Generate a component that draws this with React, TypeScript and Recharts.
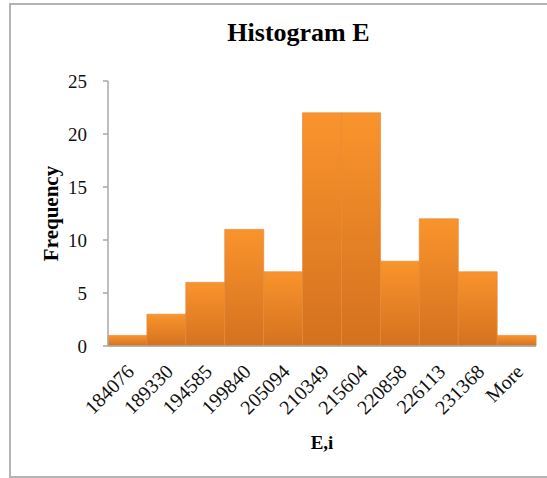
import React from "react";
import { BarChart, Bar, XAxis, YAxis, Label } from "recharts";

const bins = [
  "184076",
  "189330",
  "194585",
  "199840",
  "205094",
  "210349",
  "215604",
  "220858",
  "226113",
  "231368",
  "More",
];
const frequency = [1, 3, 6, 11, 7, 22, 22, 8, 12, 7, 1];
const yTicks = [0, 5, 10, 15, 20, 25];

const data = bins.map((bin, i) => ({ bin, frequency: frequency[i] }));

const serif = "'Liberation Serif', 'Times New Roman', serif";

// rotated bin labels, anchored at their right end just under the axis
function BinTick(props: any) {
  const { x, y, payload } = props;
  return (
    <g transform={`translate(${x + 3},${y})`}>
      <text
        transform="rotate(-45)"
        textAnchor="end"
        dominantBaseline="central"
        fontFamily={serif}
        fontSize={20}
        fill="#111"
      >
        {payload.value}
      </text>
    </g>
  );
}

export default function App() {
  return (
    <div
      style={{
        position: "absolute",
        left: 0,
        top: 0,
        width: 547,
        height: 478,
        overflow: "hidden",
        background: "#fff",
      }}
    >
      {/* chart frame */}
      <div
        style={{
          position: "absolute",
          left: 9,
          top: 3,
          width: 560,
          height: 475,
          border: "2px solid #b4b4b4",
          boxSizing: "border-box",
        }}
      />
      <div
        style={{
          position: "absolute",
          left: 0,
          top: 18,
          width: 597,
          textAlign: "center",
          fontFamily: serif,
          fontWeight: "bold",
          fontSize: 26,
          color: "#000",
        }}
      >
        Histogram E
      </div>
      <BarChart
        width={547}
        height={478}
        data={data}
        margin={{ top: 81, right: 11, bottom: 0, left: 0 }}
        barCategoryGap={0}
        barGap={0}
        style={{ position: "absolute", left: 0, top: 0 }}
      >
        <defs>
          <linearGradient id="barFill" x1="0" y1="0" x2="0" y2="1">
            <stop offset="0%" stopColor="#f9942c" />
            <stop offset="100%" stopColor="#d4711f" />
          </linearGradient>
        </defs>
        <XAxis
          dataKey="bin"
          height={132}
          interval={0}
          tickLine={false}
          tickSize={0}
          tickMargin={22}
          axisLine={{ stroke: "#a8a8a8", strokeWidth: 1.5 }}
          tick={<BinTick />}
        >
          <Label
            content={({ viewBox }: any) => (
              <text
                x={viewBox.x + viewBox.width / 2}
                y={449}
                textAnchor="middle"
                fontFamily={serif}
                fontWeight="bold"
                fontSize={19}
                fill="#000"
              >
                E,i
              </text>
            )}
          />
        </XAxis>
        <YAxis
          width={108}
          domain={[0, 25]}
          ticks={yTicks}
          interval={0}
          tickSize={5}
          tickMargin={16}
          axisLine={{ stroke: "#a8a8a8", strokeWidth: 1.5 }}
          tickLine={{ stroke: "#a8a8a8", strokeWidth: 1.5 }}
          tick={{ fontFamily: serif, fontSize: 19, fill: "#111" }}
        >
          <Label
            content={({ viewBox }: any) => {
              const cy = viewBox.y + viewBox.height / 2;
              return (
                <text
                  x={51}
                  y={cy}
                  transform={`rotate(-90, 51, ${cy})`}
                  textAnchor="middle"
                  dominantBaseline="central"
                  fontFamily={serif}
                  fontWeight="bold"
                  fontSize={21}
                  fill="#000"
                >
                  Frequency
                </text>
              );
            }}
          />
        </YAxis>
        <Bar
          dataKey="frequency"
          fill="url(#barFill)"
          stroke="#e6893a"
          strokeOpacity={0.7}
          strokeWidth={1}
          isAnimationActive={false}
        />
      </BarChart>
    </div>
  );
}
